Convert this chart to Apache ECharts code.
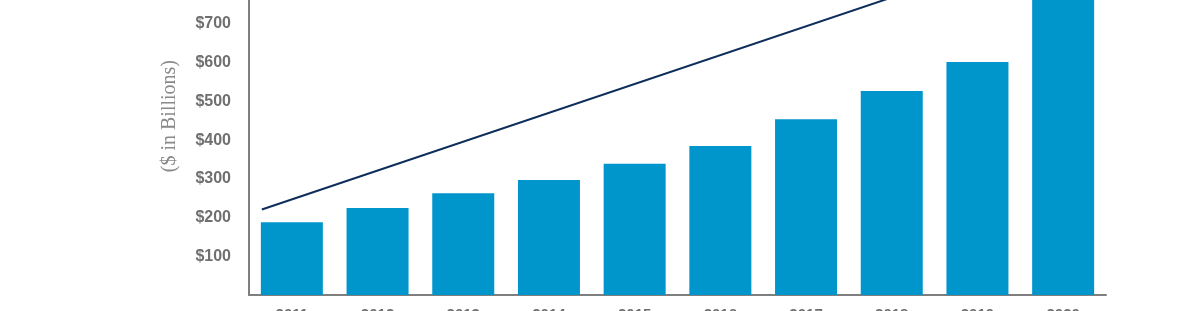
<!DOCTYPE html>
<html>
<head>
<meta charset="utf-8">
<style>
html,body{margin:0;padding:0;background:#fff;}
#chart{width:1200px;height:311px;}
</style>
<script src="https://cdn.jsdelivr.net/npm/echarts@6/dist/echarts.min.js"></script>
</head>
<body>
<div id="chart"></div>
<script>
var years = ['2011','2012','2013','2014','2015','2016','2017','2018','2019','2020'];
var barValues = [188, 225, 263, 297, 339, 385, 454, 527, 602, 850];
var trendX = [0.15, 9.85];
var trendY = [221, 944];
var yTicks = [100, 200, 300, 400, 500, 600, 700, 800, 900];
var yAxisTitle = '($ in Billions)';

var chart = echarts.init(document.getElementById('chart'));
chart.setOption({
  animation: false,
  grid: {left: 249, right: 94, top: -63, bottom: 16, containLabel: false, outerBoundsMode: 'none'},
  xAxis: [{
    type: 'category',
    data: years,
    boundaryGap: true,
    axisLine: {show: true, lineStyle: {color: '#7f7f7f', width: 2}},
    axisTick: {show: false},
    axisLabel: {color: '#6f6f6f', fontSize: 15, fontWeight: 'bold', fontFamily: 'Liberation Sans, Arial, sans-serif', margin: 12}
  }, {
    type: 'value',
    min: 0, max: years.length,
    show: false
  }],
  yAxis: {
    type: 'value',
    min: 0, max: 925, interval: 100,
    axisLine: {show: true, lineStyle: {color: '#7f7f7f', width: 2}},
    axisTick: {show: false},
    splitLine: {show: false},
    axisLabel: {
      color: '#6f6f6f', fontSize: 16, fontWeight: 'bold',
      fontFamily: 'Liberation Sans, Arial, sans-serif', margin: 18,
      formatter: function (v) { return yTicks.indexOf(v) >= 0 ? '$' + v : ''; }
    }
  },
  graphic: [{
    type: 'text',
    left: 160, top: 60,
    rotation: Math.PI / 2,
    style: {
      text: yAxisTitle,
      fill: '#8a8a8a',
      font: '20px "Liberation Serif", "Times New Roman", serif'
    }
  }],
  series: [{
    type: 'bar',
    data: barValues,
    barWidth: 62,
    itemStyle: {color: '#0096cc'}
  }, {
    type: 'line',
    xAxisIndex: 1,
    data: trendX.map(function (x, i) { return [x, trendY[i]]; }),
    symbol: 'none',
    lineStyle: {color: '#0d2d5a', width: 2}
  }]
});
</script>
</body>
</html>
